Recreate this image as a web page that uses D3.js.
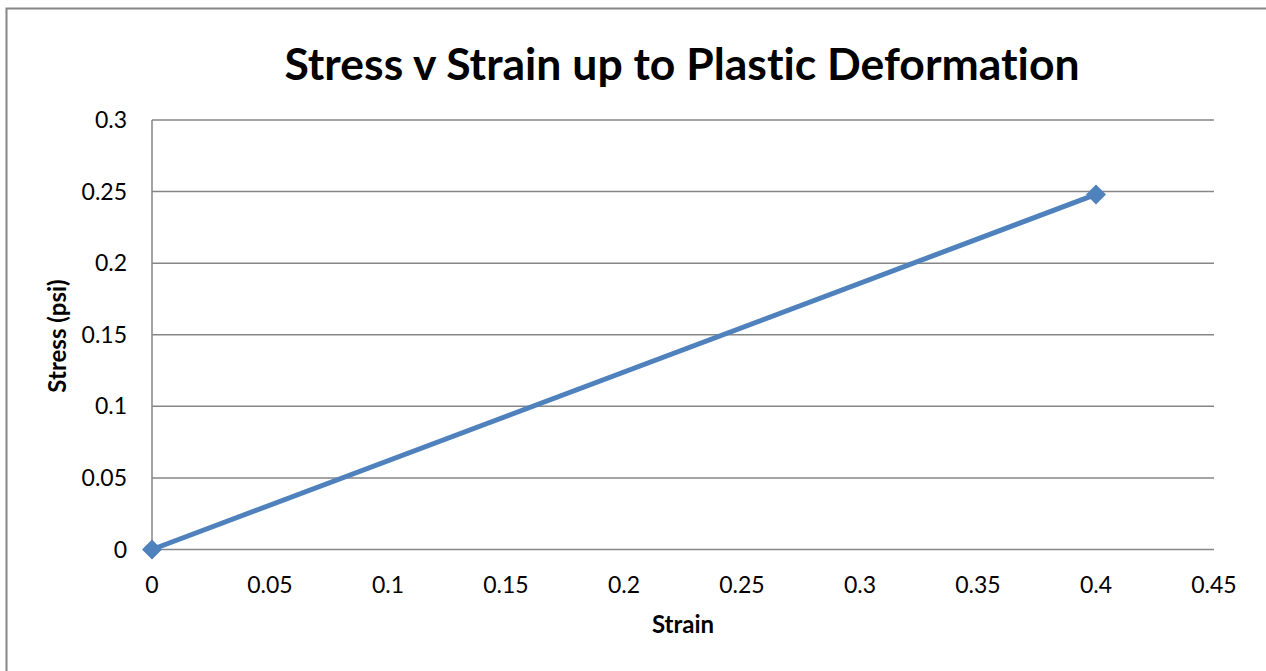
<!DOCTYPE html>
<html><head><meta charset="utf-8">
<script src="https://cdn.jsdelivr.net/npm/d3@7/dist/d3.min.js"></script>
<style>body{margin:0;background:#fff}svg{display:block}text{font-variant-ligatures:none;font-feature-settings:"liga" 0}</style>
</head><body>
<script>
const strain = [0, 0.4];
const stress = [0, 0.248];
const xTicks = [0, 0.05, 0.1, 0.15, 0.2, 0.25, 0.3, 0.35, 0.4, 0.45];
const yTicks = [0, 0.05, 0.1, 0.15, 0.2, 0.25, 0.3];
const titleText = "Stress v Strain up to Plastic Deformation";
const xLabel = "Strain";
const yLabel = "Stress (psi)";

const W = 1266, H = 671;
const svg = d3.select("body").append("svg").attr("width", W).attr("height", H);
svg.append("rect").attr("x", 6.5).attr("y", 8.5).attr("width", W + 10).attr("height", H + 10)
  .attr("fill", "#fff").attr("stroke", "#868686").attr("stroke-width", 2);

const x = d3.scaleLinear().domain([0, 0.45]).range([152, 1214]);
const y = d3.scaleLinear().domain([0, 0.3]).range([549.5, 120]);
const font = "Lato, 'Open Sans', sans-serif";

// gridlines
svg.append("g").selectAll("line").data(yTicks).join("line")
  .attr("x1", x(0)).attr("x2", x(0.45)).attr("y1", d => y(d)).attr("y2", d => y(d))
  .attr("stroke", "#868686").attr("stroke-width", 1.5);
// y axis line
svg.append("line").attr("x1", x(0)).attr("x2", x(0)).attr("y1", y(0.3)).attr("y2", y(0))
  .attr("stroke", "#868686").attr("stroke-width", 1.5);

// y tick labels
svg.append("g").selectAll("text").data(yTicks).join("text")
  .attr("x", 127).attr("y", d => y(d) + 8).attr("text-anchor", "end")
  .attr("font-family", font).attr("font-size", 23).attr("fill", "#000")
  .text(d => d3.format("")(d));
// x tick labels
svg.append("g").selectAll("text").data(xTicks).join("text")
  .attr("x", d => x(d)).attr("y", 593).attr("text-anchor", "middle")
  .attr("font-family", font).attr("font-size", 23).attr("fill", "#000")
  .text(d => d3.format("")(d));

// title
svg.append("text").attr("x", 682).attr("y", 80).attr("text-anchor", "middle")
  .attr("font-family", font).attr("font-weight", "bold").attr("font-size", 44.5)
  .text(titleText);
// axis titles
svg.append("text").attr("x", 683).attr("y", 633).attr("text-anchor", "middle")
  .attr("font-family", font).attr("font-weight", "bold").attr("font-size", 24)
  .text(xLabel);
svg.append("text").attr("transform", "translate(66,336) rotate(-90)").attr("text-anchor", "middle")
  .attr("font-family", font).attr("font-weight", "bold").attr("font-size", 24)
  .text(yLabel);

// line
const pts = strain.map((s, i) => [s, stress[i]]);
svg.append("path").datum(pts)
  .attr("d", d3.line().x(d => x(d[0])).y(d => y(d[1])))
  .attr("fill", "none").attr("stroke", "#4F81BD").attr("stroke-width", 5);
svg.append("g").selectAll("path").data(pts).join("path")
  .attr("d", d3.symbol().type(d3.symbolDiamond2).size(255))
  .attr("transform", d => `translate(${x(d[0])},${y(d[1])})`)
  .attr("fill", "#4F81BD");
</script>
</body></html>
